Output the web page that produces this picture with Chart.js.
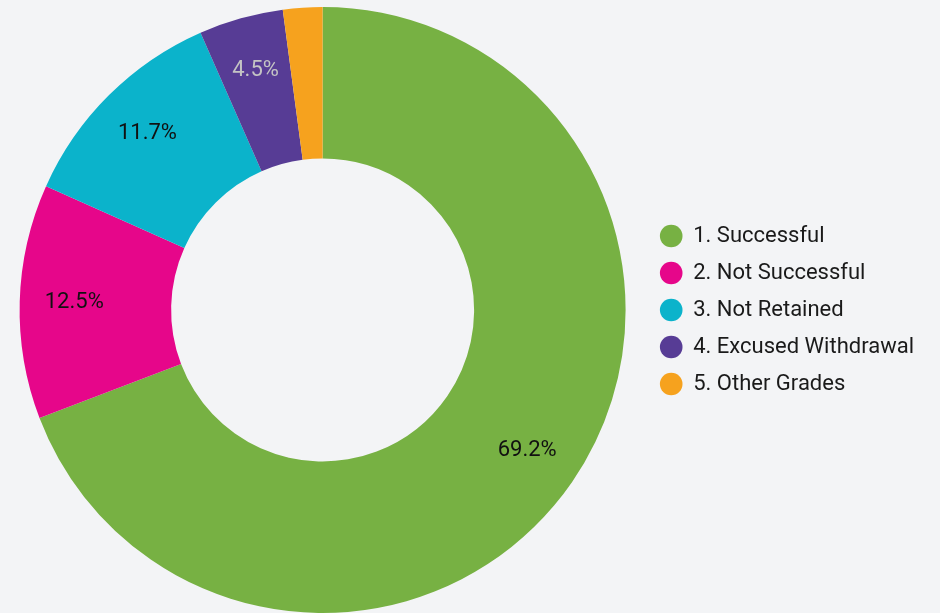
<!DOCTYPE html>
<html>
<head>
<meta charset="utf-8">
<script src="https://cdn.jsdelivr.net/npm/chart.js@4/dist/chart.umd.min.js"></script>
<style>
  html, body { margin: 0; padding: 0; background: #f3f4f6; }
  #wrap { width: 940px; height: 613px; }
</style>
</head>
<body>
<div id="wrap"><canvas id="gradeChart"></canvas></div>
<script>
const categories = ['1. Successful', '2. Not Successful', '3. Not Retained', '4. Excused Withdrawal', '5. Other Grades'];
const percentValues = [69.2, 12.5, 11.7, 4.5, 2.1];
const sliceColors = ['#77b143', '#e6068a', '#0bb3cb', '#573c95', '#f6a21e'];
const labelColors = ['#111111', '#111111', '#111111', '#c4c4c4', '#111111'];

// draws the percentage text inside each slice
const sliceLabels = {
    id: 'sliceLabels',
    afterDatasetsDraw(chart) {
        const ctx = chart.ctx;
        const meta = chart.getDatasetMeta(0);
        ctx.save();
        ctx.font = '22px Roboto';
        ctx.textAlign = 'center';
        ctx.textBaseline = 'middle';
        meta.data.forEach((arc, i) => {
            const value = percentValues[i];
            if (value < 3) return;
            const mid = (arc.startAngle + arc.endAngle) / 2;
            const r = arc.innerRadius + (arc.outerRadius - arc.innerRadius) * 0.64;
            ctx.fillStyle = labelColors[i];
            ctx.fillText(value.toFixed(1) + '%', arc.x + Math.cos(mid) * r, arc.y + Math.sin(mid) * r);
        });
        ctx.restore();
    },
};

function renderGradeChart() {
    const ctx = document.getElementById('gradeChart').getContext('2d');
    new Chart(ctx, {
        type: 'doughnut',
        data: {
            labels: categories,
            datasets: [{
                data: percentValues,
                backgroundColor: sliceColors,
                borderWidth: 0,
            }],
        },
        options: {
            responsive: true,
            maintainAspectRatio: false,
            animation: false,
            cutout: '50%',
            layout: { padding: { left: 0, top: 7, right: 16, bottom: 0 } },
            plugins: {
                tooltip: { enabled: false },
                legend: {
                    position: 'right',
                    labels: {
                        usePointStyle: true,
                        pointStyle: 'circle',
                        boxHeight: 16,
                        padding: 15,
                        color: '#1a1a1a',
                        font: { family: 'Roboto', size: 22 },
                    },
                },
            },
        },
        plugins: [sliceLabels],
    });
}

renderGradeChart();
</script>
</body>
</html>
